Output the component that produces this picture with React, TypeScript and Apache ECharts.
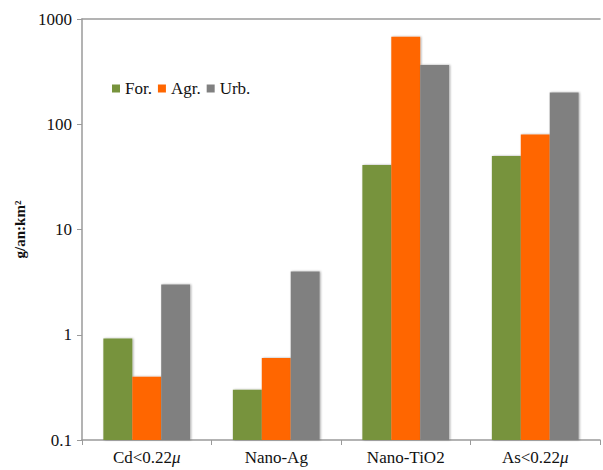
import React, { useEffect, useRef } from "react";
import * as echarts from "echarts";

const categories = ["Cd<0.22{i|μ}", "Nano-Ag", "Nano-TiO2", "As<0.22{i|μ}"];
const seriesNames = ["For.", "Agr.", "Urb."];
const forValues = [0.92, 0.3, 41, 50];
const agrValues = [0.4, 0.6, 680, 80];
const urbValues = [3, 4, 365, 200];
const colors = ["#77933C", "#FF6600", "#808080"];

const FONT = "Liberation Serif";

export default function App() {
  const ref = useRef<HTMLDivElement>(null);
  useEffect(() => {
    if (!ref.current) return;
    const chart = echarts.init(ref.current, undefined, { renderer: "svg" });
    const values = [forValues, agrValues, urbValues];
    const legendText = { fontFamily: FONT, fontSize: 17, color: "#111", fontWeight: "normal" };
    chart.setOption({
      animation: false,
      textStyle: { fontFamily: FONT },
      grid: { left: 82, top: 19, right: 3, bottom: 30, containLabel: false },
      legend: {
        left: 107,
        top: 75,
        itemWidth: 8,
        itemHeight: 8,
        itemGap: 6,
        icon: "rect",
        textStyle: legendText,
        data: seriesNames.map((name) => ({ name, textStyle: legendText })),
      },
      xAxis: [
        {
          type: "category",
          data: categories,
          position: "bottom",
          axisLine: { onZero: false, lineStyle: { color: "#9a9a9a", width: 1.5 } },
          axisTick: { show: true, length: 5, lineStyle: { color: "#9a9a9a" } },
          axisLabel: {
            fontFamily: FONT,
            fontSize: 17,
            color: "#111",
            margin: 9,
            rich: { i: { fontStyle: "italic", fontFamily: FONT, fontSize: 17, color: "#111" } },
          },
        },
        {
          type: "category",
          data: categories,
          position: "top",
          axisLine: { show: true, lineStyle: { color: "#9a9a9a", width: 1.5 } },
          axisTick: { show: false },
          axisLabel: { show: false },
        },
      ],
      yAxis: {
        type: "log",
        logBase: 10,
        min: 0.1,
        max: 1000,
        startValue: 0.1,
        name: "g/an:km²",
        nameLocation: "middle",
        nameGap: 54,
        nameRotate: 90,
        nameTextStyle: { fontFamily: FONT, fontSize: 15, fontWeight: "bold", color: "#111" },
        axisLine: { show: true, lineStyle: { color: "#9a9a9a", width: 1.5 } },
        axisTick: { show: true, length: 5, lineStyle: { color: "#9a9a9a" } },
        splitLine: { show: false },
        axisLabel: {
          fontFamily: FONT,
          fontSize: 17,
          color: "#111",
          margin: 10,
          formatter: (v: number) => (v < 1 ? String(Number(v.toFixed(1))) : String(Math.round(v))),
        },
      },
      series: seriesNames.map((name, i) => ({
        name,
        type: "bar",
        data: values[i],
        barGap: "0%",
        barCategoryGap: "33%",
        itemStyle: {
          color: colors[i],
          shadowColor: "rgba(0,0,0,0.35)",
          shadowBlur: 2,
          shadowOffsetX: 1,
          shadowOffsetY: 0,
        },
      })),
    });
    return () => chart.dispose();
  }, []);
  return <div ref={ref} style={{ width: 603, height: 470, position: "absolute", left: 0, top: 0 }} />;
}
